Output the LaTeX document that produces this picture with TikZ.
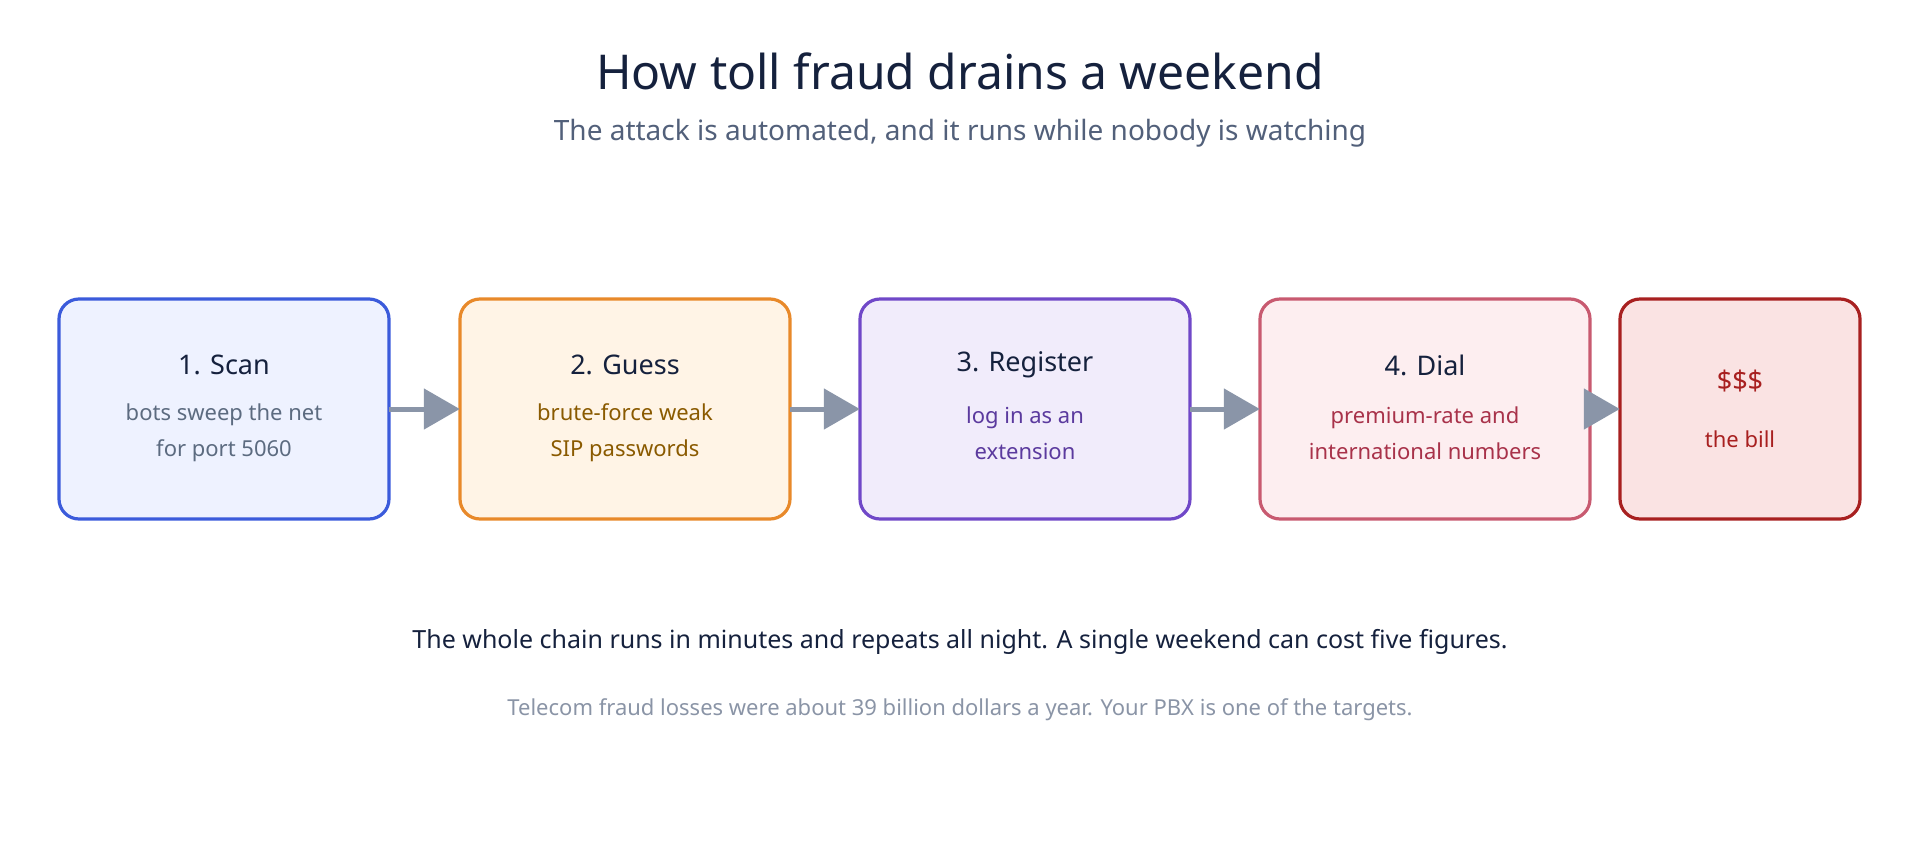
\documentclass[tikz,border=0pt]{standalone}
\usepackage{fontspec}
\setmainfont{Noto Sans}
\usetikzlibrary{arrows.meta}
\definecolor{ttl}{HTML}{15213D}
\definecolor{sub}{HTML}{52607A}
\definecolor{arr}{HTML}{8A95A8}
\definecolor{sA}{HTML}{3B5BDB}\definecolor{fA}{HTML}{EEF2FF}\definecolor{tA}{HTML}{5C6B80}
\definecolor{sB}{HTML}{E8892A}\definecolor{fB}{HTML}{FFF4E6}\definecolor{tB}{HTML}{8A5A00}
\definecolor{sC}{HTML}{7048C8}\definecolor{fC}{HTML}{F1ECFB}\definecolor{tC}{HTML}{5B3A9E}
\definecolor{sD}{HTML}{C85A70}\definecolor{fD}{HTML}{FDEEF0}\definecolor{tD}{HTML}{A8324A}
\definecolor{sE}{HTML}{A82020}\definecolor{fE}{HTML}{FAE3E3}\definecolor{tE}{HTML}{A82020}
\definecolor{ft}{HTML}{8A94A6}
\begin{document}
\begin{tikzpicture}[x=1pt,y=-1pt,
 box/.style={draw, line width=3.2pt, rounded corners=20pt, inner sep=0pt},
 head/.style={font=\fontsize{27}{32}\selectfont\bfseries, text=ttl},
 body/.style={font=\fontsize{22}{36}\selectfont, align=center},
 ar/.style={draw=arr, line width=5pt, -{Triangle[length=36pt,width=40pt]}}]
\useasboundingbox (0,0) rectangle (1920,860);
\node[font=\fontsize{48}{56}\selectfont\bfseries, text=ttl] (title) at (960,71) {How toll fraud drains a weekend};
\node[font=\fontsize{28}{34}\selectfont, text=sub] (subt) at (960,133) {The attack is automated, and it runs while nobody is watching};
\path[box, draw=sA, fill=fA] (59,299) rectangle (389,519) coordinate (b1);
\path[box, draw=sB, fill=fB] (460,299) rectangle (790,519);
\path[box, draw=sC, fill=fC] (860,299) rectangle (1190,519);
\path[box, draw=sD, fill=fD] (1260,299) rectangle (1590,519);
\path[box, draw=sE, fill=fE] (1620,299) rectangle (1860,519);
\node[draw=none, minimum width=330pt, minimum height=220pt] (n1) at (224,409) {};
\node[draw=none, minimum width=330pt, minimum height=220pt] (n2) at (625,409) {};
\node[draw=none, minimum width=330pt, minimum height=220pt] (n3) at (1025,409) {};
\node[draw=none, minimum width=330pt, minimum height=220pt] (n4) at (1425,409) {};
\node[draw=none, minimum width=240pt, minimum height=220pt] (n5) at (1740,409) {};
\node[head] (h1) at (224,365) {1. Scan};
\node[body, text=tA] (t1) at (224,433) {bots sweep the net\\for port 5060};
\node[head] (h2) at (625,365) {2. Guess};
\node[body, text=tB] (t2) at (625,433) {brute-force weak\\SIP passwords};
\node[head] (h3) at (1025,365) {3. Register};
\node[body, text=tC] (t3) at (1025,433) {log in as an\\extension};
\node[head] (h4) at (1425,365) {4. Dial};
\node[body, text=tD] (t4) at (1425,433) {premium-rate and\\international numbers};
\node[font=\fontsize{27}{32}\selectfont\bfseries, text=tE] (h5) at (1740,381) {\$\$\$};
\node[font=\fontsize{22}{28}\selectfont, text=tE] (t5) at (1740,439) {the bill};
\draw[ar] (n1.east) -- (n2.west);
\draw[ar] (n2.east) -- (n3.west);
\draw[ar] (n3.east) -- (n4.west);
\draw[ar] (n4.east) -- (n5.west);
\node[font=\fontsize{25}{30}\selectfont, text=ttl] (f1) at (960,642) {The whole chain runs in minutes and repeats all night. A single weekend can cost five figures.};
\node[font=\fontsize{22}{28}\selectfont, text=ft] (f2) at (960,710) {Telecom fraud losses were about 39 billion dollars a year. Your PBX is one of the targets.};
\end{tikzpicture}
\end{document}
